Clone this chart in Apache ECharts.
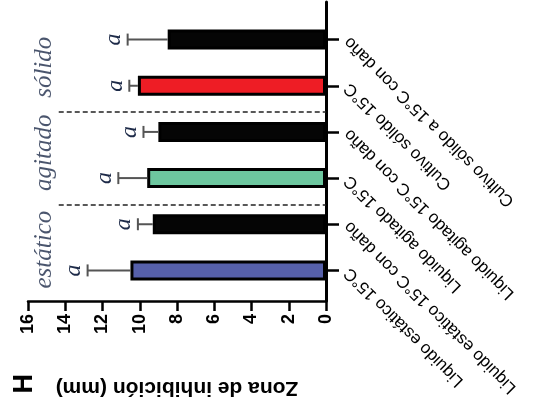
<!DOCTYPE html>
<html><head><meta charset="utf-8">
<script src="https://cdn.jsdelivr.net/npm/echarts@6/dist/echarts.min.js"></script>
<style>html,body{margin:0;padding:0;background:#fff}#c{width:539px;height:413px}</style>
</head><body><div id="c"></div>
<script>
// Data (bottom to top as drawn)
const categories = [
  "Liquido estático 15°C",
  "Liquido estático 15°C con daño",
  "Liquido agitado 15°C",
  "Liquido agitado 15°C con daño",
  "Cultivo sólido 15°C",
  "Cultivo sólido a 15°C con daño"
];
const means = [10.5, 9.3, 9.6, 9.0, 10.1, 8.5];
const sds = [2.3, 0.8, 1.55, 0.8, 0.46, 2.15];
const barColors = ["#5660AA", "#050505", "#6DC79F", "#050505", "#EE1D25", "#050505"];
const letters = ["a", "a", "a", "a", "a", "a"];
const groupNames = ["estático", "agitado", "sólido"];
const groupCenters = [0.45, 2.55, 4.4];
const dividers = [1.43, 3.44];
const valueTicks = [0, 2, 4, 6, 8, 10, 12, 14, 16];
const axisTitle = "Zona de inhibición (mm)";
const panelLetter = "H";

const chart = echarts.init(document.getElementById('c'), null, {renderer: 'canvas'});
const sans = 'Arial, "Liberation Sans", sans-serif';
const serif = '"Liberation Serif", "DejaVu Serif", serif';

const option = {
  backgroundColor: '#fff',
  animation: false,
  grid: [
    {left: 28, right: 213, top: 16.5, bottom: 119.5},
    {left: 28, right: 213, top: 2, bottom: 112}
  ],
  xAxis: [
    {gridIndex: 0, type: 'value', min: 0, max: 16, inverse: true, show: false},
    {gridIndex: 1, type: 'value', min: valueTicks[0], max: valueTicks[valueTicks.length - 1], interval: 2,
     inverse: true, position: 'bottom',
     axisLine: {show: true, onZero: false, lineStyle: {color: '#000', width: 2.5}},
     axisTick: {show: true, length: 10, lineStyle: {color: '#000', width: 2.5}},
     axisLabel: {rotate: 90, margin: 13, fontSize: 18, fontWeight: 'bold', color: '#000', fontFamily: sans},
     splitLine: {show: false},
     name: axisTitle, nameLocation: 'middle', nameRotate: 180, nameGap: 76,
     nameTextStyle: {fontSize: 21, fontWeight: 'bold', color: '#000', fontFamily: sans}
    }
  ],
  yAxis: [
    {gridIndex: 0, type: 'category', data: categories, position: 'right',
     axisLine: {show: false},
     axisTick: {show: true, alignWithLabel: true, length: 13, lineStyle: {color: '#000', width: 2.5}},
     axisLabel: {rotate: 135, margin: 21, fontSize: 17, color: '#000', fontFamily: sans}
    },
    {gridIndex: 0, type: 'value', min: -0.5, max: 5.5, show: false, position: 'left'},
    {gridIndex: 1, type: 'value', min: 0, max: 1, position: 'right',
     axisLine: {show: true, onZero: false, lineStyle: {color: '#000', width: 3}},
     axisTick: {show: false}, axisLabel: {show: false}, splitLine: {show: false}}
  ],
  series: [
    {
      type: 'bar', xAxisIndex: 0, yAxisIndex: 0, barWidth: 20,
      data: means.map((v, i) => ({value: v, itemStyle: {color: barColors[i]}})),
      itemStyle: {borderColor: '#000', borderWidth: 3}
    },
    {
      type: 'custom', xAxisIndex: 0, yAxisIndex: 0, z: 3,
      data: means.map((v, i) => [v, i, sds[i]]),
      encode: {x: 0, y: 1},
      renderItem: function (params, api) {
        const m = api.value(0), c = api.value(1), s = api.value(2);
        const p0 = api.coord([m, c]);
        const p1 = api.coord([m + s, c]);
        const cap = 6;
        return {type: 'group', children: [
          {type: 'line', shape: {x1: p0[0], y1: p0[1], x2: p1[0], y2: p1[1]}, style: {stroke: '#555', lineWidth: 2}},
          {type: 'line', shape: {x1: p1[0], y1: p1[1] - cap, x2: p1[0], y2: p1[1] + cap}, style: {stroke: '#555', lineWidth: 2}},
          {type: 'text', x: p1[0] - 14, y: p1[1], rotation: Math.PI / 2,
           style: {text: letters[params.dataIndex], fontSize: 24, fontStyle: 'italic', fontFamily: serif,
                   fill: '#1d2a48', align: 'center', verticalAlign: 'middle'}}
        ]};
      }
    },
    {
      type: 'scatter', xAxisIndex: 0, yAxisIndex: 1, symbolSize: 0, silent: true,
      data: groupNames.map((g, i) => [15.1, groupCenters[i], g]),
      label: {show: true, position: 'inside', rotate: 90, formatter: p => p.data[2],
              fontSize: 25, fontStyle: 'italic', fontFamily: serif, color: '#1d2a48'},
      markLine: {
        silent: true, symbol: 'none', label: {show: false},
        lineStyle: {type: [5, 3], color: '#222', width: 1.5},
        data: dividers.map(d => [{coord: [14.35, d]}, {coord: [0, d]}])
      }
    }
  ],
  graphic: [
    {type: 'text', left: 11, top: 374, rotation: Math.PI / 2,
     style: {text: panelLetter, fontSize: 27, fontWeight: 'bold', fontFamily: sans, fill: '#000'}}
  ]
};
chart.setOption(option);
</script>
</body></html>
